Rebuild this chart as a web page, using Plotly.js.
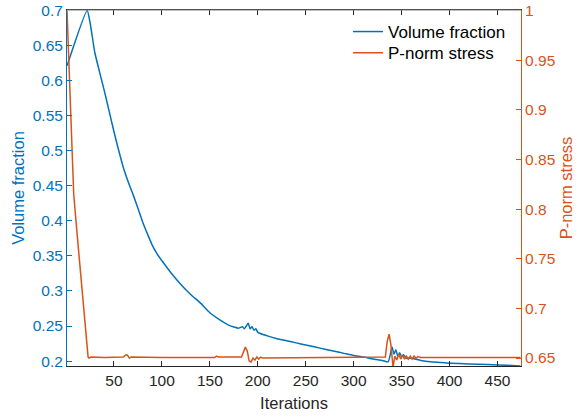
<!DOCTYPE html>
<html>
<head>
<meta charset="utf-8">
<script src="https://cdn.plot.ly/plotly-3.0.1.min.js"></script>
<style>html,body{margin:0;padding:0;background:#fff;}#chart{width:577px;height:417px;}</style>
</head>
<body>
<div id="chart"></div>
<script>
// Volume fraction series (left axis)
const volIter = [1,22,25,30,35,40,45,50,55,60,65,70,75,80,85,90,95,100,110,120,130,140,150,160,170,180,184,186,188,190,192,194,196,198,200,210,220,230,240,250,260,270,280,290,300,310,320,330,336,340,342,344,346,348,350,352,355,360,370,380,390,400,420,440,460,474];
const volFrac = [0.621,0.700,0.683,0.640,0.612,0.585,0.556,0.527,0.500,0.475,0.455,0.437,0.418,0.398,0.381,0.365,0.353,0.343,0.325,0.309,0.295,0.283,0.269,0.259,0.251,0.247,0.249,0.246,0.250,0.254,0.246,0.249,0.244,0.246,0.241,0.236,0.232,0.229,0.226,0.223,0.220,0.217,0.214,0.211,0.208,0.206,0.203,0.201,0.199,0.220,0.210,0.216,0.207,0.212,0.206,0.209,0.204,0.204,0.201,0.199,0.198,0.197,0.196,0.195,0.194,0.193];

// P-norm stress series (right axis)
const stressIter = [1,4,8,12,16,20,22,23,24,26,40,60,62,64,66,68,100,155,157,159,183,185,187,189,191,193,195,197,199,201,203,205,250,300,333,335,337,339,341,343,345,347,349,351,353,355,357,359,361,363,365,367,370,420,474];
const stress = [1.000,0.920,0.815,0.770,0.725,0.680,0.660,0.651,0.650,0.651,0.6505,0.651,0.653,0.653,0.650,0.651,0.6505,0.6505,0.652,0.651,0.651,0.656,0.661,0.657,0.647,0.646,0.650,0.648,0.651,0.649,0.651,0.650,0.6505,0.6505,0.651,0.667,0.674,0.662,0.641,0.652,0.648,0.654,0.649,0.653,0.649,0.652,0.649,0.652,0.649,0.652,0.6495,0.6515,0.6505,0.6505,0.6505];

// Tick labels
const xTicks = [50,100,150,200,250,300,350,400,450];
const yLeftTicks = [0.2,0.25,0.3,0.35,0.4,0.45,0.5,0.55,0.6,0.65,0.7];
const yLeftLabels = ['0.2','0.25','0.3','0.35','0.4','0.45','0.5','0.55','0.6','0.65','0.7'];
const yRightTicks = [0.65,0.7,0.75,0.8,0.85,0.9,0.95,1];
const yRightLabels = ['0.65','0.7','0.75','0.8','0.85','0.9','0.95','1'];

const BLUE = '#0072BD', ORANGE = '#D95319', DARK = '#262626';
const FONT = 'Liberation Sans, Arial, Helvetica, sans-serif';

const traces = [
  {x: volIter, y: volFrac, type: 'scatter', mode: 'lines', name: 'Volume fraction',
   line: {color: BLUE, width: 1.5, shape: 'spline', smoothing: 0.5}, yaxis: 'y', legend: 'legend'},
  {x: stressIter, y: stress, type: 'scatter', mode: 'lines', name: 'P-norm stress',
   line: {color: ORANGE, width: 1.5}, yaxis: 'y2', legend: 'legend2'}
];

const legFont = {family: FONT, size: 17, color: '#000'};
const layout = {
  width: 577, height: 417,
  margin: {l: 67, r: 56, t: 10, b: 51},
  paper_bgcolor: '#fff', plot_bgcolor: '#fff',
  font: {family: FONT, size: 15.5, color: DARK},
  showlegend: true,
  legend: {x: 0.619, xanchor: 'left', y: 0.9382, yanchor: 'middle',
           bgcolor: 'rgba(0,0,0,0)', borderwidth: 0, font: legFont},
  legend2: {x: 0.619, xanchor: 'left', y: 0.8784, yanchor: 'middle',
           bgcolor: 'rgba(0,0,0,0)', borderwidth: 0, font: legFont},
  xaxis: {range: [1, 474.5], tickvals: xTicks, ticks: 'inside', ticklen: 5,
          tickcolor: DARK, showline: true, linecolor: DARK, linewidth: 1,
          mirror: 'ticks', showgrid: false, zeroline: false,
          tickfont: {family: FONT, size: 15.5, color: DARK},
          title: {text: 'Iterations', font: {family: FONT, size: 16.5, color: DARK}, standoff: 9}},
  yaxis: {range: [0.193, 0.7006], tickvals: yLeftTicks, ticktext: yLeftLabels,
          ticks: 'inside', ticklen: 5, tickcolor: BLUE, showline: true, linecolor: BLUE,
          linewidth: 1, showgrid: false, zeroline: false, ticklabeloverflow: 'allow',
          tickfont: {family: FONT, size: 15.5, color: BLUE},
          title: {text: 'Volume fraction', font: {family: FONT, size: 16.5, color: BLUE}}},
  yaxis2: {range: [0.642, 1.0006], overlaying: 'y', side: 'right',
           tickvals: yRightTicks, ticktext: yRightLabels,
           ticks: 'inside', ticklen: 5, tickcolor: ORANGE, showline: true, linecolor: ORANGE,
           linewidth: 1, showgrid: false, zeroline: false, ticklabeloverflow: 'allow',
           tickfont: {family: FONT, size: 15.5, color: ORANGE},
           title: {text: 'P-norm stress', font: {family: FONT, size: 16.5, color: ORANGE}}},
  shapes: [
    {type: 'line', xref: 'paper', yref: 'paper', x0: 0, x1: 1, y0: 1, y1: 1,
     line: {color: '#7f7f7f', width: 1}, layer: 'above'}
  ]
};

Plotly.newPlot('chart', traces, layout, {displayModeBar: false, staticPlot: true});
</script>
</body>
</html>
